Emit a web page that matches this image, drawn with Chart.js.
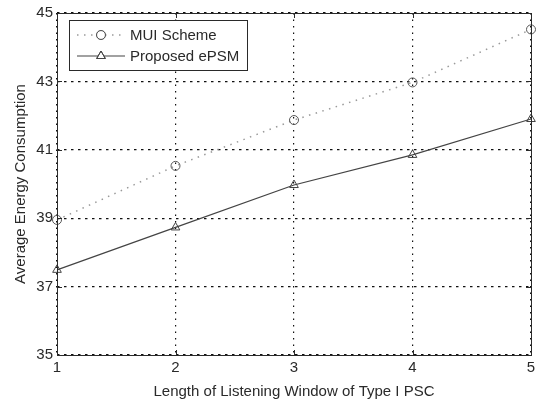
<!DOCTYPE html>
<html lang="en">
<head>
    <meta charset="UTF-8">
    <title>Average Energy Consumption</title>
    <style>
        html, body { margin: 0; padding: 0; background: #fff; }
        .canvas-container { width: 537px; height: 401px; }
    </style>
</head>
<body>
    <div class="canvas-container">
        <canvas id="energyChart" width="537" height="401"></canvas>
    </div>

    <script src="https://cdn.jsdelivr.net/npm/chart.js"></script>
    <script>
        // データ
        const windowLengths = [1, 2, 3, 4, 5];
        const muiScheme = [38.95, 40.53, 41.87, 42.97, 44.52];
        const proposedEPSM = [37.49, 38.73, 39.97, 40.85, 41.90];
        const yTicks = [35, 37, 39, 41, 43, 45];

        const FONT = 'Liberation Sans, Arial, sans-serif';
        const INK = '#2a2a2a';

        // 枠・内向き目盛り・凡例を描くプラグイン
        const matlabFrame = {
            id: 'matlabFrame',
            afterDraw(chart) {
                const { ctx, chartArea: a, scales } = chart;
                ctx.save();
                ctx.strokeStyle = INK;
                ctx.lineWidth = 1;
                ctx.setLineDash([]);
                ctx.strokeRect(a.left + 0.5, a.top + 0.5, a.right - a.left, a.bottom - a.top);

                // 内向きの目盛り
                ctx.beginPath();
                windowLengths.forEach(v => {
                    const x = Math.round(scales.x.getPixelForValue(v)) + 0.5;
                    ctx.moveTo(x, a.bottom); ctx.lineTo(x, a.bottom - 5);
                    ctx.moveTo(x, a.top); ctx.lineTo(x, a.top + 5);
                });
                yTicks.forEach(v => {
                    const y = Math.round(scales.y.getPixelForValue(v)) + 0.5;
                    ctx.moveTo(a.left, y); ctx.lineTo(a.left + 5, y);
                    ctx.moveTo(a.right, y); ctx.lineTo(a.right - 5, y);
                });
                ctx.stroke();

                // 凡例
                const bx = a.left + 12, by = a.top + 7, bw = 178, bh = 50;
                ctx.fillStyle = '#fff';
                ctx.fillRect(bx, by, bw, bh);
                ctx.strokeStyle = INK;
                ctx.strokeRect(bx + 0.5, by + 0.5, bw, bh);

                chart.data.datasets.forEach((ds, i) => {
                    const y = by + 15 + i * 21;
                    ctx.strokeStyle = ds.borderColor;
                    ctx.lineWidth = ds.borderWidth;
                    ctx.setLineDash(ds.borderDash || []);
                    ctx.beginPath();
                    ctx.moveTo(bx + 8, y);
                    ctx.lineTo(bx + 56, y);
                    ctx.stroke();
                    ctx.setLineDash([]);
                    ctx.lineWidth = 1;
                    ctx.fillStyle = '#fff';
                    Chart.helpers.drawPoint(ctx, {
                        pointStyle: ds.pointStyle,
                        radius: ds.pointRadius,
                        borderWidth: 1
                    }, bx + 32, y);
                    ctx.strokeStyle = ds.pointBorderColor;
                    ctx.stroke();
                    ctx.fillStyle = INK;
                    ctx.font = '15px ' + FONT;
                    ctx.textBaseline = 'middle';
                    ctx.fillText(ds.label, bx + 61, y + 1);
                });
                ctx.restore();
            }
        };

        const ctx = document.getElementById('energyChart').getContext('2d');
        const energyChart = new Chart(ctx, {
            type: 'line',
            data: {
                datasets: [
                    {
                        label: 'MUI Scheme',
                        data: windowLengths.map((x, i) => ({ x: x, y: muiScheme[i] })),
                        borderColor: '#9a9a9a',
                        borderWidth: 1.5,
                        borderDash: [1.5, 5.5],
                        pointStyle: 'circle',
                        pointRadius: 4.5,
                        pointBorderColor: '#555',
                        pointBackgroundColor: 'rgba(255,255,255,0)',
                        pointBorderWidth: 1,
                        clip: false
                    },
                    {
                        label: 'Proposed ePSM',
                        data: windowLengths.map((x, i) => ({ x: x, y: proposedEPSM[i] })),
                        borderColor: '#444',
                        borderWidth: 1.2,
                        pointStyle: 'triangle',
                        pointRadius: 5,
                        pointBorderColor: '#444',
                        pointBackgroundColor: 'rgba(255,255,255,0)',
                        pointBorderWidth: 1,
                        clip: false
                    }
                ]
            },
            options: {
                responsive: false,
                animation: false,
                layout: { padding: { top: 13, right: 4, left: 0, bottom: 0 } },
                plugins: {
                    legend: { display: false },
                    tooltip: { enabled: false }
                },
                scales: {
                    x: {
                        type: 'linear',
                        min: 1,
                        max: 5,
                        ticks: {
                            stepSize: 1,
                            color: INK,
                            font: { family: FONT, size: 15 },
                            padding: 4
                        },
                        grid: {
                            color: '#111',
                            lineWidth: 1.2,
                            drawTicks: false,
                            tickLength: 0
                        },
                        border: { display: false, dash: [1.5, 5] },
                        title: {
                            display: true,
                            text: 'Length of Listening Window of Type I PSC',
                            color: INK,
                            font: { family: FONT, size: 15 },
                            padding: { top: 3, bottom: 0 }
                        },
                        afterFit(scale) {
                            scale.height = 46;
                            scale.paddingLeft = 0;
                            scale.paddingRight = 0;
                        }
                    },
                    y: {
                        min: 35,
                        max: 45,
                        afterBuildTicks(scale) {
                            scale.ticks = yTicks.map(v => ({ value: v }));
                        },
                        ticks: {
                            color: INK,
                            font: { family: FONT, size: 15 },
                            padding: 4
                        },
                        grid: {
                            color: '#111',
                            lineWidth: 1.2,
                            drawTicks: false,
                            tickLength: 0
                        },
                        border: { display: false, dash: [2.5, 4.5] },
                        title: {
                            display: true,
                            text: 'Average Energy Consumption',
                            color: INK,
                            font: { family: FONT, size: 15 },
                            padding: { top: 12, bottom: 0 }
                        },
                        afterFit(scale) {
                            scale.width = 57;
                            scale.paddingTop = 0;
                            scale.paddingBottom = 0;
                        }
                    }
                }
            },
            plugins: [matlabFrame]
        });
    </script>
</body>
</html>
